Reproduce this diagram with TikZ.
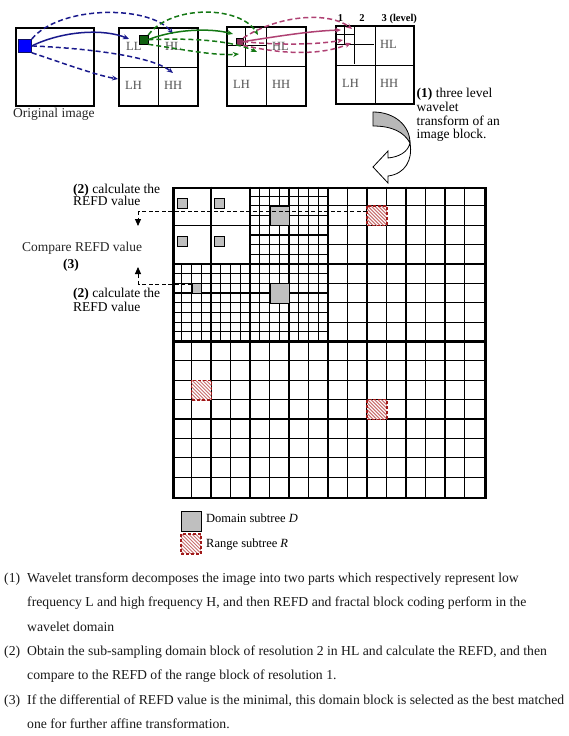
\documentclass[tikz,border=0pt]{standalone}
\usepackage{fontspec}
\setmainfont{Liberation Serif}
\usetikzlibrary{arrows.meta}
\definecolor{navy}{RGB}{25,25,140}
\definecolor{dgreen}{RGB}{20,120,20}
\definecolor{plum}{RGB}{175,65,115}
\definecolor{dred}{RGB}{160,25,25}
\definecolor{hatchc}{RGB}{200,110,110}
\definecolor{labgray}{RGB}{80,80,80}
\newcommand\myhatch[1]{%
  \begin{scope}
    \clip (#1.north west) rectangle (#1.south east);
    \foreach \k in {-24,-20.5,...,24} {
      \draw[hatchc,line width=1pt] ([xshift=\k pt]#1.north west) -- ++(24,24);
    }
  \end{scope}
  \draw[dred,dash pattern=on 3pt off 2pt,line width=1.3pt] (#1.north west) rectangle (#1.south east);
}
\begin{document}
\begin{tikzpicture}[x=1pt,y=-1pt,
  blk/.style={draw,line width=2.2pt,inner sep=0pt,anchor=north west},
  inl/.style={line width=1.1pt},
  cell/.style={line width=1.15pt},
  subb/.style={line width=1.9pt},
  quadb/.style={line width=2.4pt},
  outerb/.style={line width=2.6pt},
  arr/.style={line width=1.5pt,-{Stealth[length=6pt,width=5pt]}},
  dsh/.style={dash pattern=on 5pt off 3pt},
  lbl/.style={inner sep=0pt,anchor=base west,font=\fontsize{12.5}{13}\selectfont,text=labgray},
  txt/.style={inner sep=0pt,anchor=base west,font=\fontsize{13.5}{14}\selectfont},
  btxt/.style={inner sep=0pt,anchor=base west,font=\fontsize{13.7}{14}\selectfont,text=black!90},
  legt/.style={inner sep=0pt,anchor=base west,font=\fontsize{12.5}{13}\selectfont},
  lvl/.style={inner sep=0pt,anchor=base,font=\bfseries\fontsize{10.5}{11}\selectfont},
  dom/.style={draw=black,fill=black!25,line width=1pt,inner sep=0pt,anchor=north west},
  rng/.style={fill=white,inner sep=0pt,anchor=north west},
  lead/.style={line width=0.9pt,dash pattern=on 4pt off 2.5pt},
  tip/.style={-{Triangle[length=7pt,width=6pt]}}
]
\useasboundingbox (0,0) rectangle (568,736);

% ---------- top: wavelet blocks ----------
\node[blk,minimum width=78pt,minimum height=78pt] (B1) at (15,27) {};
\node[draw=navy!70!black,fill=blue,line width=0.8pt,minimum size=13pt,inner sep=0pt,anchor=north west] (bsq) at (18,39) {};
\node[txt,text=black!85] (orig) at (13,117) {Original image};

\node[blk,minimum width=79pt,minimum height=78pt] (B2) at (118,27) {};
\draw[inl] (B2.north) -- (B2.south);
\draw[inl] (B2.west) -- (B2.east);
\node[lbl] (b2ll) at (126,50) {LL};
\node[lbl] (b2hl) at (165,50) {HL};
\node[lbl] (b2lh) at (125,89) {LH};
\node[lbl] (b2hh) at (164,89) {HH};
\node[draw=black,fill=dgreen!80!black,line width=0.8pt,minimum size=8.5pt,inner sep=0pt,anchor=north west] (gsq) at (139,35) {};

\node[blk,minimum width=79pt,minimum height=79pt] (B3) at (226,26) {};
\draw[inl] (B3.north) -- (B3.south);
\draw[inl] (B3.west) -- (B3.east);
\draw[inl] (245.75,26) -- (245.75,65.5);
\draw[inl] (226,45.75) -- (265.5,45.75);
\node[lbl] (b3hl) at (272,50) {HL};
\node[lbl] (b3lh) at (233,88) {LH};
\node[lbl] (b3hh) at (272,88) {HH};
\node[draw=black,fill=plum!80!black,line width=0.7pt,minimum size=6.5pt,inner sep=0pt,anchor=north west] (rsq) at (236,38) {};

\node[blk,minimum width=78pt,minimum height=78pt] (B4) at (335,25) {};
\draw[inl] (B4.north) -- (B4.south);
\draw[inl] (B4.west) -- (B4.east);
\draw[inl] (354.5,25) -- (354.5,64);
\draw[inl] (335,44.5) -- (374,44.5);
\draw[inl] (344.75,25) -- (344.75,44.5);
\draw[inl] (335,34.75) -- (354.5,34.75);
\node[lbl] (b4hl) at (380,48) {HL};
\node[lbl] (b4lh) at (342,87) {LH};
\node[lbl] (b4hh) at (380,87) {HH};
\node[lvl] (lv1) at (340.5,21.5) {1};
\node[lvl] (lv2) at (362,21.5) {2};
\node[lvl,anchor=base west] (lv3) at (381.5,21.5) {3 (level)};

% arrows, blue
\coordinate (tb1) at (129,39);
\coordinate (tb2) at (173,34);
\coordinate (tb3) at (173,73);
\coordinate (tb4) at (118,79);
\draw[arr,navy] (bsq.east) .. controls (65,30) and (105,29) .. (tb1);
\draw[arr,navy,dsh] (bsq.north east) .. controls (60,5) and (150,5) .. (tb2);
\draw[arr,navy,dsh] (bsq.east) .. controls (80,48) and (150,55) .. (tb3);
\draw[arr,navy,dsh] (bsq.south east) .. controls (60,62) and (95,75) .. (tb4);
% arrows, green
\coordinate (tg1) at (233,34);
\coordinate (tg2) at (258,35);
\coordinate (tg3) at (239,54);
\coordinate (tg4) at (257,52);
\draw[arr,dgreen] (gsq.east) .. controls (175,29) and (210,28) .. (tg1);
\draw[arr,dgreen,dsh] (gsq.north east) .. controls (170,5) and (240,5) .. (tg2);
\draw[arr,dgreen,dsh] (gsq.south east) .. controls (180,49) and (215,56) .. (tg3);
\draw[arr,dgreen,dsh] (gsq.east) .. controls (190,38) and (230,40) .. (tg4);
% arrows, plum
\coordinate (tm1) at (341,30);
\coordinate (tm2) at (352,29);
\coordinate (tm3) at (351,43);
\coordinate (tm4) at (343,40);
\draw[arr,plum] (rsq.east) .. controls (280,36) and (310,31) .. (tm1);
\draw[arr,plum,dsh] (rsq.north east) .. controls (280,14) and (330,12) .. (tm2);
\draw[arr,plum,dsh] (rsq.south east) .. controls (280,54) and (320,56) .. (tm3);
\draw[arr,plum,dsh] (rsq.east) .. controls (275,45) and (315,45) .. (tm4);

% caption (1)
\node[txt] (c1a) at (416.5,97.5) {\textbf{(1)} three level};
\node[txt] (c1b) at (416.5,111.5) {wavelet};
\node[txt] (c1c) at (416.5,125) {transform of an};
\node[txt] (c1d) at (416.5,138.5) {image block.};

% curved block arrow
\draw[fill=black!28,line width=0.8pt] (373,112) .. controls (395,112) and (410,126) .. (410,143)
  .. controls (404,132) and (392,126) .. (373,126) -- cycle;
\draw[fill=white,line width=0.8pt] (410,143) .. controls (408,152) and (399,157) .. (388,158)
  -- (388,151) -- (373,167) -- (388,183) -- (388,176)
  .. controls (405,174) and (413,160) .. (410,143) -- cycle;

% ---------- big grid ----------
\foreach \i in {1,...,7} {
  \draw[cell] ({328+\i*19.5},186.5) -- ({328+\i*19.5},341.5);
  \draw[cell] (328,{186.5+\i*19.375}) -- (484,{186.5+\i*19.375});
  \draw[cell] ({250+\i*9.75},186.5) -- ({250+\i*9.75},264);
  \draw[cell] (250,{186.5+\i*9.6875}) -- (328,{186.5+\i*9.6875});
  \draw[cell] ({172+\i*9.75},264) -- ({172+\i*9.75},341.5);
  \draw[cell] ({250+\i*9.75},264) -- ({250+\i*9.75},341.5);
  \draw[cell] (172,{264+\i*9.6875}) -- (328,{264+\i*9.6875});
  \draw[cell] (172,{341.5+\i*19.375}) -- (484,{341.5+\i*19.375});
}
\foreach \i in {1,...,15} {
  \draw[cell] ({172+\i*19.5},341.5) -- ({172+\i*19.5},496.5);
}
\draw[cell] (211,186.5) -- (211,264);
\draw[cell] (172,225.25) -- (250,225.25);
\draw[subb] (250,186.5) -- (250,341.5);
\draw[subb] (172,264) -- (328,264);
\draw[quadb] (328,186.5) -- (328,496.5);
\draw[quadb] (172,341.5) -- (484,341.5);
\node[draw,outerb,minimum width=312pt,minimum height=310pt,inner sep=0pt,anchor=north west] (G) at (172,186.5) {};

% domain subtrees
\node[dom,line width=1.3pt,minimum size=9.5pt] (d1) at (177,198) {};
\node[dom,line width=1.3pt,minimum size=9.5pt] (d2) at (214,198) {};
\node[dom,line width=1.3pt,minimum size=9.5pt] (d3) at (177,236) {};
\node[dom,line width=1.3pt,minimum size=9.5pt] (d4) at (214,236) {};
\node[dom,minimum width=19.5pt,minimum height=19.375pt] (d5) at (269.5,205.875) {};
\node[dom,minimum width=9.75pt,minimum height=9.6875pt] (d6) at (191.5,283.375) {};
\node[dom,minimum width=19.5pt,minimum height=19.375pt] (d7) at (269.5,283.375) {};

% range subtrees
\node[rng,minimum width=19.5pt,minimum height=19.375pt] (r1) at (367,205.875) {};
\node[rng,minimum width=19.5pt,minimum height=19.375pt] (r2) at (191.5,380.25) {};
\node[rng,minimum width=19.5pt,minimum height=19.375pt] (r3) at (367,399.625) {};
\myhatch{r1}
\myhatch{r2}
\myhatch{r3}

% left annotations
\node[txt] (a1) at (73,193.5) {\textbf{(2)} calculate the};
\node[txt] (a2) at (73,205.5) {REFD value};
\node[txt,text=black!85] (cmp) at (22,251) {Compare REFD value};
\node[txt] (a3) at (63,268) {\textbf{(3)}};
\node[txt] (a4) at (73,297.5) {\textbf{(2)} calculate the};
\node[txt] (a5) at (73,311.5) {REFD value};

\coordinate (k1) at (138,211);
\coordinate (k1t) at (138,226);
\coordinate (k2) at (138,284.5);
\coordinate (k2t) at (138,267);
\draw[lead] (r1.west |- k1) -- (k1);
\draw[lead,tip] (k1) -- (k1t);
\draw[lead] (d6.west |- k2) -- (k2);
\draw[lead,tip] (k2) -- (k2t);

% legend
\node[dom,minimum size=19.5pt,line width=1.2pt] (ld) at (181,511) {};
\node[legt] (ldt) at (206,522.5) {Domain subtree \textit{D}};
\node[rng,minimum size=19.5pt] (lr) at (181,534) {};
\myhatch{lr}
\node[legt] (lrt) at (206,547) {Range subtree \textit{R}};

% bottom explanation
\node[btxt] (n1) at (4,582) {(1)};
\node[btxt] (l1) at (27,582) {Wavelet transform decomposes the image into two parts which respectively represent low};
\node[btxt] (l2) at (27,606.5) {frequency L and high frequency H, and then REFD and fractal block coding perform in the};
\node[btxt] (l3) at (27,631) {wavelet domain};
\node[btxt] (n2) at (4,655) {(2)};
\node[btxt] (l4) at (27,655) {Obtain the sub-sampling domain block of resolution 2 in HL and calculate the REFD, and then};
\node[btxt] (l5) at (27,679.5) {compare to the REFD of the range block of resolution 1.};
\node[btxt] (n3) at (4,704) {(3)};
\node[btxt] (l6) at (27,704) {If the differential of REFD value is the minimal, this domain block is selected as the best matched};
\node[btxt] (l7) at (27,728) {one for further affine transformation.};
\end{tikzpicture}
\end{document}
